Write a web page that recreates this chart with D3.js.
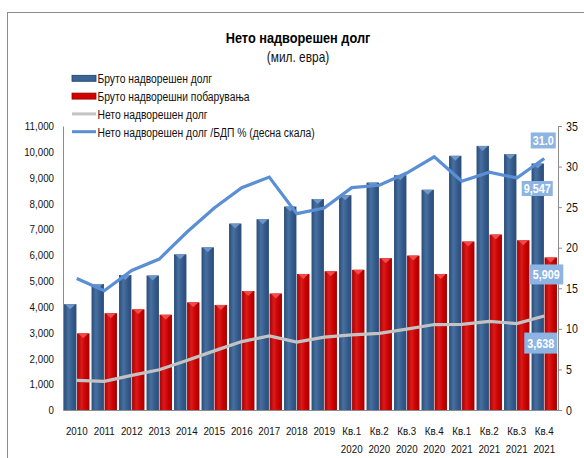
<!DOCTYPE html>
<html>
<head>
<meta charset="utf-8">
<script src="https://cdn.jsdelivr.net/npm/d3@7"></script>
<style>
  body { margin: 0; background: #fff; }
  svg { display: block; }
  text { font-family: "Liberation Sans", Arial, sans-serif; fill: #111; }
</style>
</head>
<body>
<svg id="chart" width="584" height="458"></svg>
<script>
// categories on the x axis
const categories = ["2010", "2011", "2012", "2013", "2014", "2015", "2016", "2017", "2018", "2019",
  "Кв.1 2020", "Кв.2 2020", "Кв.3 2020", "Кв.4 2020", "Кв.1 2021", "Кв.2 2021", "Кв.3 2021", "Кв.4 2021"];

// gross external debt (mil. EUR)
const grossDebt = [4100, 4880, 5230, 5210, 6030, 6300, 7220, 7390, 7880, 8170,
  8320, 8810, 9095, 8530, 9845, 10230, 9910, 9547];

// gross external claims (mil. EUR)
const grossClaims = [2970, 3750, 3900, 3690, 4170, 4070, 4610, 4510, 5270, 5375,
  5430, 5880, 5980, 5270, 6525, 6795, 6575, 5909];

// net external debt (mil. EUR)
const netDebt = [1150, 1110, 1340, 1560, 1920, 2290, 2650, 2870, 2630, 2820,
  2910, 2970, 3130, 3310, 3320, 3430, 3350, 3638];

// net external debt / GDP % (right scale)
const netDebtGdp = [16.2, 14.7, 17.2, 18.6, 21.9, 24.9, 27.4, 28.7, 24.2, 24.9,
  27.4, 27.7, 29.2, 31.2, 28.2, 29.3, 28.6, 31.0];

const leftTicks = [0, 1000, 2000, 3000, 4000, 5000, 6000, 7000, 8000, 9000, 10000, 11000];
const rightTicks = [0, 5, 10, 15, 20, 25, 30, 35];

const legendItems = [
  { label: "Бруто надворешен долг", type: "bar", color: "#3b6494", edge: "#1f3f66" },
  { label: "Бруто надворешни побарувања", type: "bar", color: "#d40000", edge: "#8a0000" },
  { label: "Нето надворешен долг", type: "line", color: "#c3c3c3" },
  { label: "Нето надворешен долг /БДП % (десна скала)", type: "line", color: "#5a8fd6" }
];

const svg = d3.select("#chart");
const plotLeft = 63, plotRight = 558, plotTop = 126, plotBottom = 410;

// squeeze text horizontally around its x anchor (the original font is a condensed one)
function squeeze(sel, k) {
  sel.each(function() {
    let t = d3.select(this);
    let ax = +t.attr("x") || 0;
    t.attr("transform", "translate(" + ax + ",0) scale(" + k + ",1) translate(" + (-ax) + ",0)");
  });
}

// frame of the chart area
svg.append("rect")
  .attr("x", 7.5).attr("y", 12.5)
  .attr("width", 620).attr("height", 500)
  .attr("fill", "none").attr("stroke", "#8c8c8c").attr("stroke-width", 1);

// gradients for the bars
const defs = svg.append("defs");
function barGradient(id, dark, mid, light) {
  let g = defs.append("linearGradient").attr("id", id)
    .attr("x1", "0%").attr("x2", "100%").attr("y1", "0%").attr("y2", "0%");
  g.append("stop").attr("offset", "0%").attr("stop-color", dark);
  g.append("stop").attr("offset", "35%").attr("stop-color", light);
  g.append("stop").attr("offset", "70%").attr("stop-color", mid);
  g.append("stop").attr("offset", "100%").attr("stop-color", dark);
}
barGradient("blueGrad", "#2a4c78", "#34598a", "#46709f");
barGradient("redGrad", "#a30000", "#c80000", "#dc1a1a");

let x = d3.scaleBand()
  .domain(categories)
  .range([plotLeft, plotRight])
  .padding(0);

let x1 = d3.scaleBand()
  .domain(["debt", "claims"])
  .range([0, x.bandwidth()])
  .paddingInner(0.05)
  .paddingOuter(0.08);

let yLeft = d3.scaleLinear().domain([0, 11000]).range([plotBottom, plotTop]);
let yRight = d3.scaleLinear().domain([0, 35]).range([plotBottom, plotTop]);

// title
let title = svg.append("text")
  .attr("x", 298).attr("y", 43)
  .attr("text-anchor", "middle")
  .style("font-size", "14.5px").style("font-weight", "bold")
  .style("fill", "#000")
  .text("Нето надворешен долг");
squeeze(title, 0.88);
let sub = svg.append("text")
  .attr("x", 298).attr("y", 62)
  .attr("text-anchor", "middle")
  .style("font-size", "14px")
  .text("(мил. евра)");
squeeze(sub, 0.85);

// left axis
let yAxisL = d3.axisLeft(yLeft).tickValues(leftTicks).tickSize(0).tickPadding(9)
  .tickFormat(d3.format(","));
let gL = svg.append("g").attr("transform", "translate(" + plotLeft + ",0)").call(yAxisL);
gL.select(".domain").attr("stroke", "#8c8c8c");
gL.selectAll("text").style("font-size", "11.5px").style("font-family", null).style("fill", "#111");
squeeze(gL.selectAll("text"), 0.85);

// right axis
let yAxisR = d3.axisRight(yRight).tickValues(rightTicks).tickSize(4).tickPadding(4);
let gR = svg.append("g").attr("transform", "translate(" + plotRight + ",0)").call(yAxisR);
gR.select(".domain").attr("stroke", "#8c8c8c");
gR.selectAll("line").attr("stroke", "#8c8c8c");
gR.selectAll("text").style("font-size", "12.5px").style("font-family", null).style("fill", "#111");
squeeze(gR.selectAll("text"), 0.85);

// bars
let groups = svg.append("g").selectAll("g")
  .data(categories)
  .enter().append("g")
  .attr("transform", d => "translate(" + x(d) + ",0)");

groups.append("rect")
  .attr("x", x1("debt"))
  .attr("y", (d, i) => yLeft(grossDebt[i]))
  .attr("width", x1.bandwidth())
  .attr("height", (d, i) => plotBottom - yLeft(grossDebt[i]))
  .attr("fill", "url(#blueGrad)");

groups.append("rect")
  .attr("x", x1("claims"))
  .attr("y", (d, i) => yLeft(grossClaims[i]))
  .attr("width", x1.bandwidth())
  .attr("height", (d, i) => plotBottom - yLeft(grossClaims[i]))
  .attr("fill", "url(#redGrad)");

// small bevel triangles on top of bars
function bevel(key, values, color) {
  groups.append("path")
    .attr("d", (d, i) => {
      let x0 = x1(key), w = x1.bandwidth(), t = yLeft(values[i]);
      return "M" + (x0 + 1) + "," + t + "L" + (x0 + w - 1) + "," + t +
        "L" + (x0 + w / 2) + "," + (t + 5) + "Z";
    })
    .attr("fill", color);
}
bevel("debt", grossDebt, "#6f95c4");
bevel("claims", grossClaims, "#f04a4a");

// bottom axis
let xAxis = d3.axisBottom(x).tickSize(0).tickFormat("");
let gX = svg.append("g").attr("transform", "translate(0," + plotBottom + ")").call(xAxis);
gX.select(".domain").attr("stroke", "#8c8c8c");

let xLabels = svg.append("g").selectAll("text")
  .data(categories)
  .enter().append("text")
  .attr("x", d => x(d) + x.bandwidth() / 2)
  .attr("y", 435)
  .attr("text-anchor", "middle")
  .style("font-size", "11.5px")
  .each(function(d) {
    let parts = d.split(" ");
    let t = d3.select(this);
    parts.forEach((p, k) => {
      t.append("tspan")
        .attr("x", x(d) + x.bandwidth() / 2)
        .attr("dy", k === 0 ? 0 : 18)
        .text(p);
    });
  });
squeeze(xLabels, 0.85);

// lines
let netLine = d3.line()
  .x((d, i) => x(categories[i]) + x.bandwidth() / 2)
  .y(d => yLeft(d));
svg.append("path")
  .datum(netDebt)
  .attr("d", netLine)
  .attr("fill", "none")
  .attr("stroke", "#c3c3c3")
  .attr("stroke-width", 3.2);

let gdpLine = d3.line()
  .x((d, i) => x(categories[i]) + x.bandwidth() / 2)
  .y(d => yRight(d));
svg.append("path")
  .datum(netDebtGdp)
  .attr("d", gdpLine)
  .attr("fill", "none")
  .attr("stroke", "#5a8fd6")
  .attr("stroke-width", 3.2);

// data labels for the last category
let last = categories.length - 1;
let lastX = x(categories[last]) + x.bandwidth() / 2;
let labels = [
  { text: d3.format(".1f")(netDebtGdp[last]), cx: lastX - 1, cy: yRight(netDebtGdp[last]) - 18, w: 25, h: 16 },
  { text: d3.format(",")(grossDebt[last]), cx: lastX - 7, cy: yLeft(grossDebt[last]) + 25, w: 31, h: 15 },
  { text: d3.format(",")(grossClaims[last]), cx: lastX + 2, cy: yLeft(grossClaims[last]) + 17, w: 34, h: 20 },
  { text: d3.format(",")(netDebt[last]), cx: lastX - 3.5, cy: yLeft(netDebt[last]) + 27, w: 33, h: 21 }
];
let lab = svg.append("g").selectAll("g").data(labels).enter().append("g");
lab.append("rect")
  .attr("x", d => d.cx - d.w / 2)
  .attr("y", d => d.cy - d.h / 2)
  .attr("width", d => d.w)
  .attr("height", d => d.h)
  .attr("fill", "#8db4e2");
let labText = lab.append("text")
  .attr("x", d => d.cx)
  .attr("y", d => d.cy + 5)
  .attr("text-anchor", "middle")
  .style("font-size", "13.5px")
  .style("font-weight", "bold")
  .style("fill", "#fff")
  .text(d => d.text);
squeeze(labText, 0.8);

// legend
let leg = svg.append("g").selectAll("g")
  .data(legendItems)
  .enter().append("g")
  .attr("transform", (d, i) => "translate(72," + (78.3 + i * 17.8) + ")");
leg.append("rect")
  .attr("x", 0)
  .attr("y", d => d.type === "bar" ? -3 : -1.5)
  .attr("width", 24)
  .attr("height", d => d.type === "bar" ? 6 : 3)
  .attr("fill", d => d.color)
  .attr("stroke", d => d.edge || "none")
  .attr("stroke-width", 0.8);
let legText = leg.append("text")
  .attr("x", 25.5)
  .attr("y", 5)
  .style("font-size", "13.5px")
  .text(d => d.label);
squeeze(legText, 0.765);
</script>
</body>
</html>
